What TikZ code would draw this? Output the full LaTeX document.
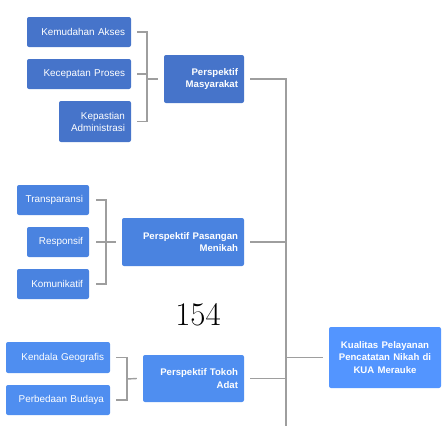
\documentclass[tikz,border=0pt]{standalone}
\usepackage{fontspec}
\setsansfont{Liberation Sans}
\definecolor{ctop}{RGB}{70,116,202}
\definecolor{cmid}{RGB}{74,131,224}
\definecolor{cbot}{RGB}{79,142,240}
\definecolor{cright}{RGB}{83,149,255}
\definecolor{cline}{RGB}{158,158,158}
\begin{document}
\begin{tikzpicture}[x=1pt,y=-1pt,
  box/.style={rounded corners=2pt, draw=none, inner sep=0pt, text=white,
     font=\sffamily\fontsize{9.9}{12}\selectfont, align=right, anchor=center},
  pbox/.style={box, font=\sffamily\bfseries\fontsize{9.6}{12.2}\selectfont},
  conn/.style={draw=cline, line width=1.4pt}]
\useasboundingbox (0,0) rectangle (442,426);
% top group
\node[box, fill=ctop, minimum width=104pt, minimum height=30pt, text width=92pt] (ka) at (79,32) {Kemudahan Akses};
\node[box, fill=ctop, minimum width=104pt, minimum height=30pt, text width=92pt] (kp) at (79,74) {Kecepatan Proses};
\node[box, fill=ctop, minimum width=72pt, minimum height=41pt, text width=60pt] (kad) at (95,121.5) {Kepastian\\Administrasi};
\node[pbox, fill=ctop, minimum width=80pt, minimum height=48pt, text width=68pt] (pm) at (204,79) {Perspektif\\Masyarakat};
% middle group
\node[box, fill=cmid, minimum width=72pt, minimum height=30pt, text width=60pt] (tr) at (53,200) {Transparansi};
\node[box, fill=cmid, minimum width=62pt, minimum height=30pt, text width=50pt] (re) at (58,242) {Responsif};
\node[box, fill=cmid, minimum width=72pt, minimum height=30pt, text width=60pt] (ko) at (53,284) {Komunikatif};
\node[pbox, fill=cmid, minimum width=122pt, minimum height=48pt, text width=110pt] (pp) at (183,242) {Perspektif Pasangan\\Menikah};
% bottom group
\node[box, fill=cbot, minimum width=104pt, minimum height=31pt, text width=92pt] (kg) at (58,357.5) {Kendala Geografis};
\node[box, fill=cbot, minimum width=104pt, minimum height=30pt, text width=92pt] (pb) at (58,400) {Perbedaan Budaya};
\node[pbox, fill=cbot, minimum width=101pt, minimum height=47pt, text width=89pt] (pt) at (193.5,378.5) {Perspektif Tokoh\\Adat};
% right box
\node[pbox, fill=cright, minimum width=112pt, minimum height=61pt, text width=104pt, align=center] (kq) at (385,357.5) {Kualitas Pelayanan\\Pencatatan Nikah di\\KUA Merauke};
% page number
\node[font=\fontsize{33}{36}\selectfont, inner sep=0pt] (num) at (198,314.5) {154};
% junctions
\coordinate (j1) at (147,79);
\coordinate (j2) at (106,242);
\coordinate (j3) at (127,379);
\coordinate (tb) at (286,426);
% brackets
\draw[conn] ([xshift=6pt]ka.east) -| (j1);
\draw[conn] ([xshift=6pt]kad.east) -| (j1);
\draw[conn] ([xshift=6pt]kp.east) -- (kp.east -| j1);
\draw[conn] (j1) -- ([xshift=-6pt]pm.west);
\draw[conn] ([xshift=7pt]tr.east) -| (j2);
\draw[conn] ([xshift=7pt]ko.east) -| (j2);
\draw[conn] ([xshift=7pt]re.east) -- (j2);
\draw[conn] (j2) -- ([xshift=-6pt]pp.west);
\draw[conn] ([xshift=6pt]kg.east) -| (j3);
\draw[conn] ([xshift=6pt]pb.east) -| (j3);
\draw[conn] (j3) -- ([xshift=-6pt]pt.west);
% trunk
\draw[conn] ([xshift=6pt]pm.east) -| (tb);
\draw[conn] ([xshift=6pt]pp.east) -- (pp.east -| tb);
\draw[conn] ([xshift=6pt]pt.east) -- (pt.east -| tb);
\draw[conn] (kq.west -| tb) -- ([xshift=-6pt]kq.west);
\end{tikzpicture}
\end{document}
